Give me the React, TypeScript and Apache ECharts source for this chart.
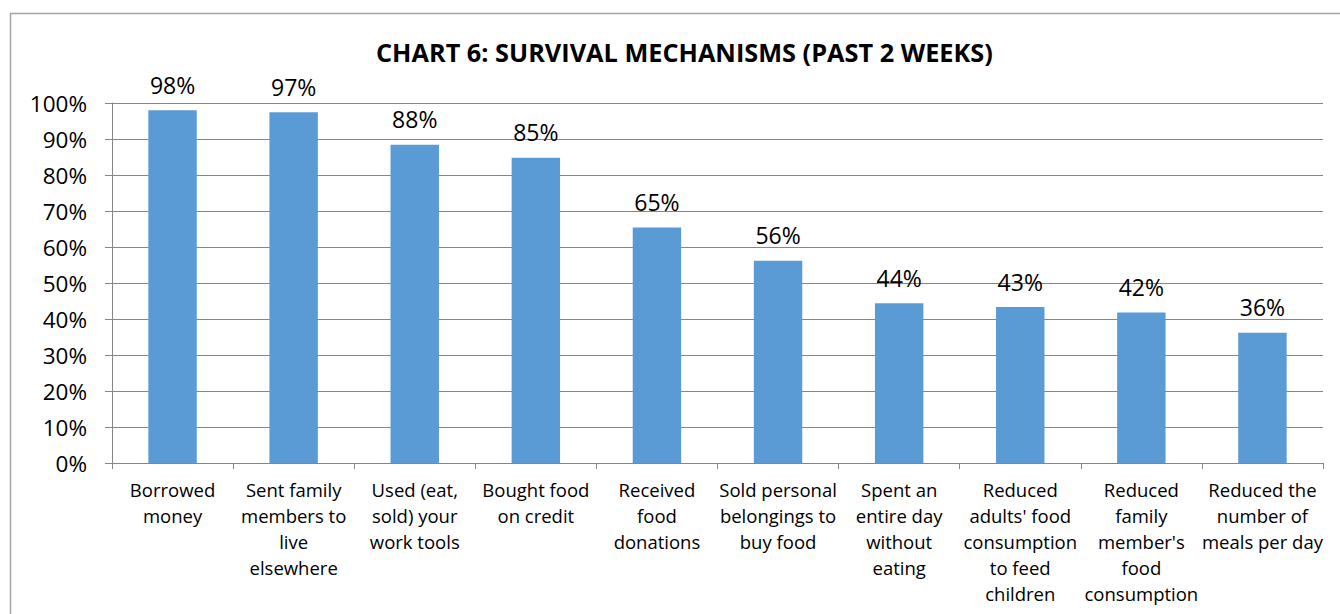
import React, { useEffect, useRef } from "react";
import * as echarts from "echarts";

const categories = [
  "Borrowed\nmoney",
  "Sent family\nmembers to\nlive\nelsewhere",
  "Used (eat,\nsold) your\nwork tools",
  "Bought food\non credit",
  "Received\nfood\ndonations",
  "Sold personal\nbelongings to\nbuy food",
  "Spent an\nentire day\nwithout\neating",
  "Reduced\nadults' food\nconsumption\nto feed\nchildren",
  "Reduced\nfamily\nmember's\nfood\nconsumption",
  "Reduced the\nnumber of\nmeals per day",
];
const values = [0.98, 0.974, 0.884, 0.848, 0.654, 0.562, 0.444, 0.433, 0.418, 0.362];
const yTicks = [0, 0.1, 0.2, 0.3, 0.4, 0.5, 0.6, 0.7, 0.8, 0.9, 1.0];
const title = "CHART 6: SURVIVAL MECHANISMS (PAST 2 WEEKS)";

const FONT = "'Open Sans', 'Noto Sans', sans-serif";

export default function App() {
  const ref = useRef<HTMLDivElement>(null);
  useEffect(() => {
    document.body.style.margin = "0";
    const chart = echarts.init(ref.current!, null, { renderer: "svg" });
    chart.setOption({
      animation: false,
      backgroundColor: "#ffffff",
      title: {
        text: title,
        left: 371,
        top: 34,
        textStyle: { fontFamily: FONT, fontSize: 25.3, fontWeight: "bold", color: "#000" },
      },
      graphic: [
        {
          type: "rect",
          shape: { x: 10.5, y: 13.5, width: 1360, height: 640 },
          style: { fill: "none", stroke: "#a6a6a6", lineWidth: 1.5 },
          silent: true,
        },
      ],
      grid: { left: 112, right: 17, top: 103, bottom: 151, containLabel: false },
      xAxis: {
        type: "category",
        data: categories,
        axisLine: { show: true, lineStyle: { color: "#868686", width: 1 } },
        axisTick: { show: true, alignWithLabel: false, length: 6, lineStyle: { color: "#868686" } },
        axisLabel: {
          interval: 0,
          fontFamily: FONT,
          fontSize: 18.5,
          color: "#000",
          lineHeight: 26,
          margin: 13,
          align: "center",
        },
      },
      yAxis: {
        type: "value",
        min: 0,
        max: 1,
        interval: 0.1,
        axisLine: { show: true, lineStyle: { color: "#868686", width: 1 } },
        axisTick: { show: true, length: 7, lineStyle: { color: "#868686" } },
        splitLine: { show: true, lineStyle: { color: "#868686", width: 1 } },
        axisLabel: {
          fontFamily: FONT,
          fontSize: 22.5,
          color: "#000",
          margin: 25,
          formatter: (v: number) => {
            const t = yTicks.find((x) => Math.abs(x - v) < 1e-6);
            return Math.round((t ?? v) * 100) + "%";
          },
        },
      },
      series: [
        {
          type: "bar",
          data: values,
          barWidth: "40%",
          itemStyle: { color: "#5b9bd5" },
          label: {
            show: true,
            position: "top",
            distance: 14,
            fontFamily: FONT,
            fontSize: 23,
            color: "#000",
            formatter: (p: any) => Math.round(p.value * 100) + "%",
          },
        },
      ],
    });
    return () => chart.dispose();
  }, []);
  return (
    <div
      ref={ref}
      style={{ position: "fixed", left: 0, top: 0, width: 1340, height: 614 }}
    />
  );
}
